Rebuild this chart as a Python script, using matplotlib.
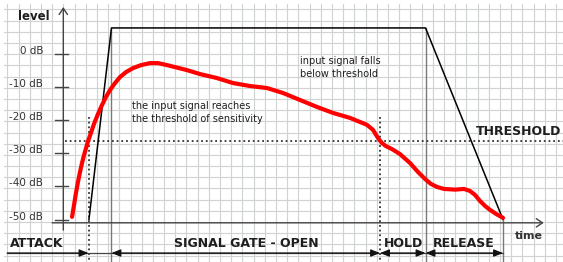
import matplotlib.pyplot as plt

# --- data ---------------------------------------------------------------------
# time in grid cells (0 = level axis), level in dB
db_ticks = [0, -10, -20, -30, -40, -50]
db_labels = ["0 dB", "-10 dB", "-20 dB", "-30 dB", "-40 dB", "-50 dB"]

gate_t = [2.29, 4.30, 32.34, 39.26]
gate_db = [-50, 7.7, 7.7, -50]

signal_t = [0.78, 0.96, 1.13, 1.31, 1.49, 1.67, 1.85, 2.03, 2.21, 2.47, 2.74,
            3.10, 3.46, 3.81, 4.17, 4.62, 5.06, 5.6, 6.22, 6.94, 7.74, 8.46,
            9.26, 11.04, 12.21, 13.72, 15.15, 16.67, 18.19, 19.62, 21.13,
            22.65, 24.08, 25.6, 27.12, 27.65, 27.92, 28.19, 28.46, 28.81,
            29.35, 30.06, 30.96, 31.67, 32.3, 32.83, 33.37, 34.0, 34.98, 35.78,
            36.31, 36.76, 37.2, 37.65, 38.1, 38.63, 39.26]
signal_db = [-49.2, -45.6, -42.0, -38.7, -35.7, -33.0, -30.6, -28.5, -26.4,
             -23.9, -21.2, -18.2, -15.5, -13.1, -11.0, -8.9, -7.1, -5.6, -4.4,
             -3.5, -2.9, -2.9, -3.5, -5.0, -6.2, -7.4, -8.9, -9.8, -10.4, -11.9,
             -14.0, -16.1, -17.9, -19.4, -21.5, -23.0, -24.5, -25.9, -27.0,
             -27.9, -28.8, -30.3, -33.0, -35.7, -37.8, -39.3, -40.2, -40.8,
             -41.0, -40.8, -41.4, -42.6, -44.4, -45.9, -47.1, -48.3, -49.5]

threshold_db = -26.4
cross_t = [2.25, 28.28]          # signal crosses threshold
phase_bounds = [2.25, 4.30, 28.28, 32.34, 39.26]
phase_names = ["ATTACK", "SIGNAL GATE - OPEN", "HOLD", "RELEASE"]

# --- figure -------------------------------------------------------------------
W, H = 563, 262
fig = plt.figure(figsize=(W / 100, H / 100), dpi=100)

# background grid in pixel space
bg = fig.add_axes([0, 0, 1, 1])
bg.set_xlim(0, W)
bg.set_ylim(H, 0)
bg.axis("off")
gx, gy = 7.3, 9.3
while gx < W:
    bg.plot([gx, gx], [4, H], color="#d0d4d0", lw=0.85)
    gx += 11.2
while gy < H:
    bg.plot([4, W], [gy, gy], color="#d0d4d0", lw=0.85)
    gy += 11.2

ax = fig.add_axes([0, 0, 1, 1])
ax.patch.set_alpha(0)
ax.axis("off")
ax.set_xlim(-63.3 / 11.2, (W - 63.3) / 11.2)
ax.set_ylim((53.5 - H) / 3.32, 53.5 / 3.32)

bottom = (53.5 - H) / 3.32
txt = "#1e1e1e"

# axes with arrows
ax.annotate("", xy=(0, 14.0), xytext=(0, -53.2),
            arrowprops=dict(arrowstyle="->,head_length=0.45,head_width=0.3",
                            color="#444", lw=1.0, shrinkA=0, shrinkB=0))
ax.annotate("", xy=(42.9, -51.0), xytext=(-1.0, -51.0),
            arrowprops=dict(arrowstyle="->,head_length=0.45,head_width=0.3",
                            color="#444", lw=1.0, shrinkA=0, shrinkB=0))
for d, lab in zip(db_ticks, db_labels):
    ax.plot([-0.75, 0.45], [d, d], color="#444", lw=1.0)
    ax.text(-1.8, d + 0.9, lab, ha="right", va="center", fontsize=7.5, color="#333")
ax.text(-2.62, 11.0, "level", ha="center", va="center", fontsize=8.5,
        fontweight="bold", color=txt)

# phase boundary lines
for t in [gate_t[1], gate_t[2]]:
    ax.plot([t, t], [gate_db[1], bottom], color="#7a7a7a", lw=1.0)
ax.plot([gate_t[3], gate_t[3]], [gate_db[3], bottom], color="#7a7a7a", lw=1.0)
for t in cross_t:
    ax.plot([t, t], [-19.0, bottom], color="#333", lw=1.3, ls=(0, (1, 1.6)))
ax.plot([0.15, 44.6], [threshold_db, threshold_db], color="#333", lw=1.3,
        ls=(0, (1, 1.6)))

# gate envelope and signal
ax.plot(gate_t, gate_db, color="black", lw=1.1)
ax.plot(signal_t, signal_db, color="#ff0000", lw=3.0, solid_capstyle="round",
        solid_joinstyle="round")

# texts
ax.text(44.5, -23.5, "THRESHOLD", ha="right", va="center", fontsize=9,
        fontweight="bold", color=txt)
ax.text(6.13, -17.7, "the input signal reaches\nthe threshold of sensitivity",
        ha="left", va="center", fontsize=7, color=txt, linespacing=1.35)
ax.text(21.13, -4.2, "input signal falls\nbelow threshold",
        ha="left", va="center", fontsize=7, color=txt, linespacing=1.35)
ax.text(41.6, -55.0, "time", ha="center", va="center", fontsize=8,
        fontweight="bold", color="#333")

# phase arrows along the bottom
arr_y = -60.1
ax.plot([-5.0, phase_bounds[-1]], [arr_y, arr_y], color="#444", lw=0.9)
astyle = "head_length=0.55,head_width=0.22"
ax.annotate("", xy=(phase_bounds[0], arr_y), xytext=(-5.0, arr_y),
            arrowprops=dict(arrowstyle="-|>," + astyle, color="#111", lw=0.9,
                            shrinkA=0, shrinkB=0))
for a, b in zip(phase_bounds[1:-1], phase_bounds[2:]):
    ax.annotate("", xy=(b, arr_y), xytext=(a, arr_y),
                arrowprops=dict(arrowstyle="<|-|>," + astyle, color="#111", lw=0.9,
                                shrinkA=0, shrinkB=0))

label_t = [-4.76, 9.9, 30.36, 35.73]
label_ha = ["left", "left", "center", "center"]
for t, name, ha in zip(label_t, phase_names, label_ha):
    ax.text(t, -57.1, name, ha=ha, va="center", fontsize=9, fontweight="bold",
            color=txt)

fig.savefig("out.png", dpi=100)
